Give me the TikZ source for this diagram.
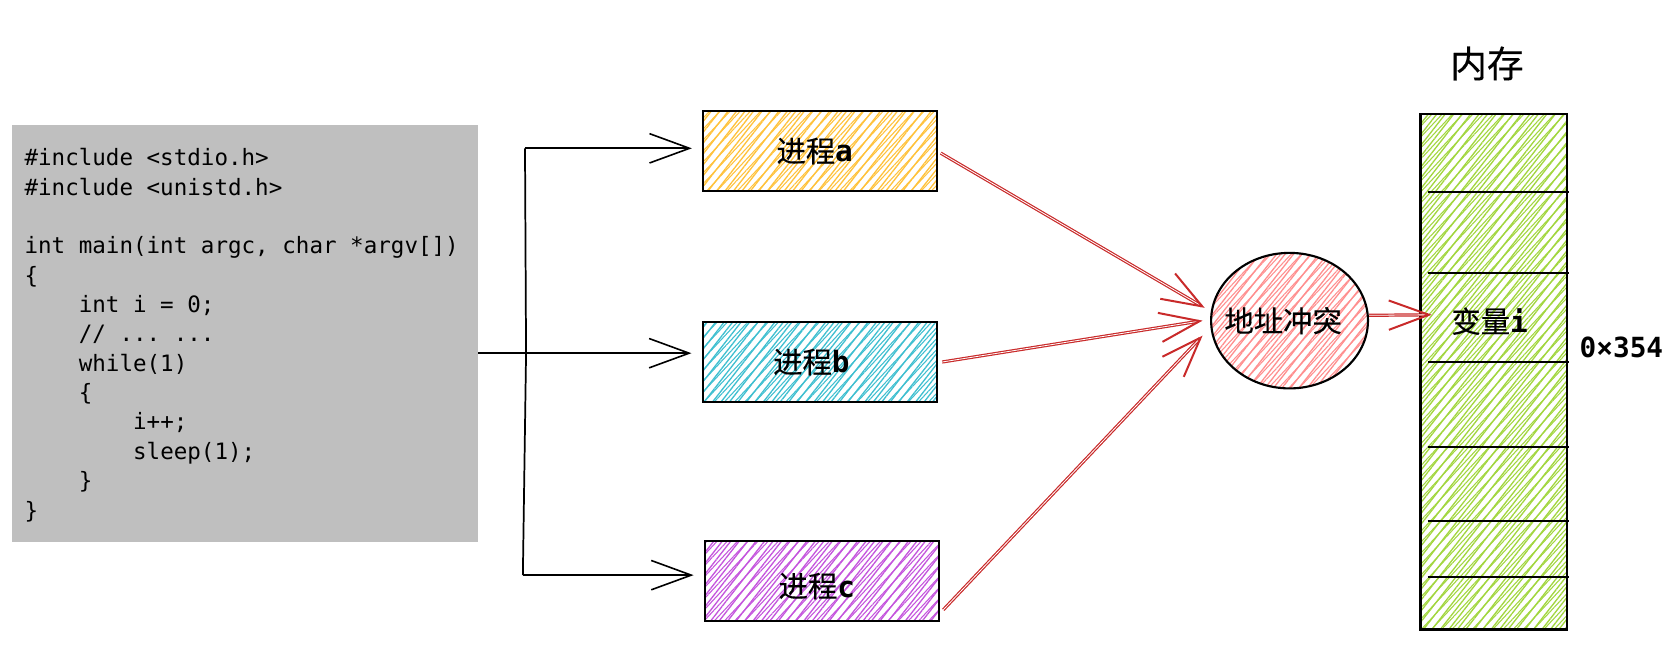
\documentclass[tikz,border=0pt]{standalone}
\usepackage{fontspec}
\setmonofont{DejaVu Sans Mono}
\newfontfamily\cjk[FakeBold=0.25]{Noto Sans CJK SC}
\usetikzlibrary{arrows.meta, patterns.meta, positioning, shapes.geometric}

\definecolor{codegray}{HTML}{BFBFBF}
\definecolor{sketchyellow}{HTML}{FFC23C}
\definecolor{sketchblue}{HTML}{3FBFD0}
\definecolor{sketchpurple}{HTML}{C455DD}
\definecolor{sketchpink}{HTML}{FF8F8F}
\definecolor{sketchgreen}{HTML}{A2D63F}
\definecolor{sketchred}{HTML}{C92A2A}

\newcommand{\proclabel}[1]{进程{\ttfamily\bfseries #1}\hspace*{8pt}}

\tikzset{
    codebox/.style={fill=codegray, minimum width=349.6pt, minimum height=313pt, inner xsep=9.6pt,
        text width=330.4pt, align=flush left, font=\ttfamily\fontsize{16.9}{22}\selectfont},
    hatch/.style={preaction={pattern={Lines[angle=47, distance=5.6pt, line width=0.8pt]}, pattern color=#1},
        pattern={Lines[angle=52, distance=5pt, line width=1pt]}, pattern color=#1},
    procbox/.style={draw, line width=1.6pt, hatch=#1, minimum width=175.2pt, minimum height=60pt,
        font=\cjk\fontsize{22}{24}\selectfont},
    label/.style={font=\cjk\fontsize{22}{24}\selectfont, inner sep=0pt},
    latinb/.style={font=\ttfamily\bfseries\fontsize{20.8}{24}\selectfont, inner sep=0pt},
    bus/.style={line width=1.3pt},
    busarrow/.style={bus, -{Straight Barb[length=30pt, width=22pt, line width=1.2pt]}, shorten >=8pt},
    clasharrow/.style={draw=sketchred, double=white, double distance=0.6pt, line width=0.9pt,
        -{Straight Barb[length=30pt, width=22pt, line width=1.5pt]}},
}

\begin{document}
\begin{tikzpicture}[x=0.8pt, y=-0.8pt]
    \useasboundingbox (0,0) rectangle (1566,622.3);

    \node[codebox] (code) at (229.5,312.5) {%
        \rule{0pt}{15.5pt}\#include <stdio.h>\\
        \#include <unistd.h>\\
        ~\\
        int main(int argc, char *argv[])\\
        \{\\
        ~~~~int i = 0;\\
        ~~~~// ... ...\\
        ~~~~while(1)\\
        ~~~~\{\\
        ~~~~~~~~i++;\\
        ~~~~~~~~sleep(1);\\
        ~~~~\}\\
        \}};

    \node[procbox=sketchyellow] (pa) at (768.5,141.5) {\proclabel{a}};
    \node[procbox=sketchblue]   (pb) [below=96.9pt of pa] {\proclabel{b}\hspace*{5pt}};
    \node[procbox=sketchpurple] (pc) [below=102.6pt of pb, xshift=1.6pt] {\rule{0pt}{25.8pt}\proclabel{c}};

    \node[draw, ellipse, line width=1.6pt, hatch=sketchpink, minimum width=117.6pt, minimum height=101.6pt,
        inner sep=0pt] (clash) at (1208.5,300.5) {};
    \node[label] (clashlabel) at (1202.5,300.5) {地址冲突};

    % memory column
    \node[draw, line width=1.6pt, hatch=sketchgreen, minimum width=110pt, minimum height=386.4pt] (mem) at (1400,348.5) {};
    \foreach \ypos in {180, 256, 339, 419, 488, 541}
        \draw[line width=1.2pt] (1338,\ypos) -- (1470,\ypos);
    \node[label, minimum width=86.4pt, text width=86.4pt, align=center] (var) at (1396,301) {变量{\ttfamily\bfseries i}};
    \node[font=\cjk\fontsize{27.6}{30}\selectfont, inner sep=0pt] (memtitle) at (1393.5,59.5) {内存};
    \node[latinb] (addr) at (1519.5,326) {0×354};

    % fork out of the code box
    \coordinate (forka) at (492,139);
    \coordinate (forkb) at (493,331);
    \coordinate (forkc) at (490,539);
    \draw[bus] (forka) -- (forkb) -- (forkc);
    \draw[bus] (code.east |- forkb) -- (forkb);
    \draw[busarrow] (forka) -- (pa.west |- forka);
    \draw[busarrow] (forkb) -- (pb.west |- forkb);
    \draw[busarrow] (forkc) -- (pc.west |- forkc);

    \path[clasharrow] ([shift={(3,2)}]pa.east) -- ([shift={(-5,-12)}]clash.west);
    \path[clasharrow] ([shift={(4,0)}]pb.east) -- ([shift={(-7,0)}]clash.west);
    \path[clasharrow] ([shift={(3,27)}]pc.east) -- ([shift={(-7,14)}]clash.west);
    \path[clasharrow] ([yshift=4pt]clash.east) -- ([yshift=4.8pt]var.west);
\end{tikzpicture}
\end{document}
